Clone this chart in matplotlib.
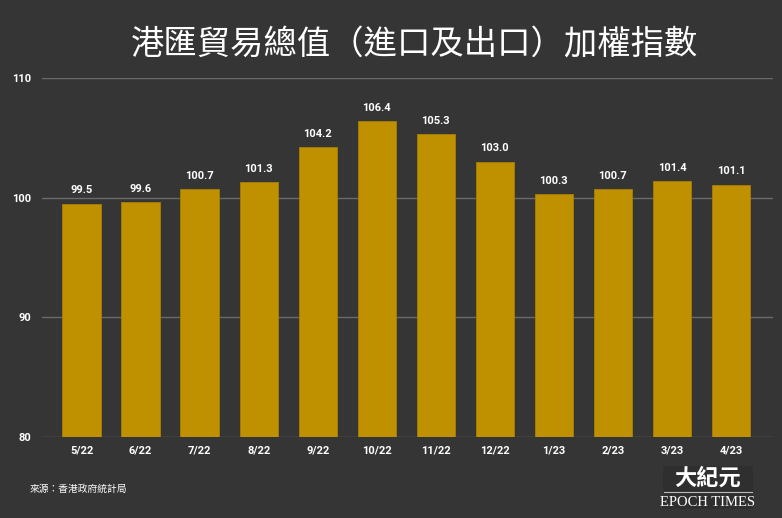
import matplotlib
matplotlib.use("Agg")
import matplotlib.pyplot as plt
from matplotlib.patches import Rectangle

plt.rcParams['font.family'] = ['Noto Sans CJK TC', 'DejaVu Sans']

categories = ["5/22", "6/22", "7/22", "8/22", "9/22", "10/22", "11/22", "12/22", "1/23", "2/23", "3/23", "4/23"]
values = [99.5, 99.6, 100.7, 101.3, 104.2, 106.4, 105.3, 103.0, 100.3, 100.7, 101.4, 101.1]
yticks = [80, 90, 100, 110]
title = "港匯貿易總值（進口及出口）加權指數"
source = "來源：香港政府統計局"

BG = "#353535"
BAR = "#BF9000"

fig = plt.figure(figsize=(7.82, 5.18), dpi=100, facecolor=BG)
ax = fig.add_axes([42/782, 1-437/518, (773-42)/782, (437-78)/518], facecolor=BG)

x = list(range(len(categories)))
ax.bar(x, [v - 80 for v in values], bottom=80, width=0.65, color=BAR, zorder=3,
       edgecolor="#a87f00", linewidth=0.6)
for xi, v in zip(x, values):
    ax.text(xi, v + 0.7, f"{v:.1f}", ha="center", va="bottom", color="white",
            fontsize=8, fontweight="bold", family=["Roboto", "DejaVu Sans"])

ax.set_ylim(80, 110)
ax.set_xlim(-0.67, 11.71)
ax.set_yticks(yticks)
ax.set_yticklabels([str(t) for t in yticks], color="white", fontsize=8, fontweight="bold",
                   family=["Roboto", "DejaVu Sans"])
ax.set_xticks(x)
ax.set_xticklabels(categories, color="white", fontsize=8, fontweight="bold",
                   family=["Roboto", "DejaVu Sans"])
ax.tick_params(axis="both", length=0, pad=6)
ax.tick_params(axis="y", pad=8)
ax.grid(axis="y", color="#6a6a6a", linewidth=1, zorder=0)
for s in ax.spines.values():
    s.set_visible(False)

fig.text(415/782, 1-45/518, title, ha="center", va="center", color="white", fontsize=24)
fig.text(30/782, 1-489/518, source, ha="left", va="center", color="white", fontsize=7)

# logo
fig.patches.append(Rectangle((663/782, 1-509/518), 90/782, 43/518, transform=fig.transFigure,
                             facecolor="#2f2f2f", edgecolor="none"))
fig.text(708/782, 1-478/518, "大紀元", ha="center", va="center", color="white", fontsize=16,
         fontweight="bold")
fig.lines.append(plt.Line2D([664/782, 752/782], [1-492/518, 1-492/518], transform=fig.transFigure,
                            color="#bbbbbb", linewidth=0.8))
fig.text(708/782, 1-502/518, "EPOCH TIMES", ha="center", va="center", color="white", fontsize=10.5,
         family=["Liberation Serif"], stretch="condensed")

fig.savefig("out.png", dpi=100, facecolor=BG)
